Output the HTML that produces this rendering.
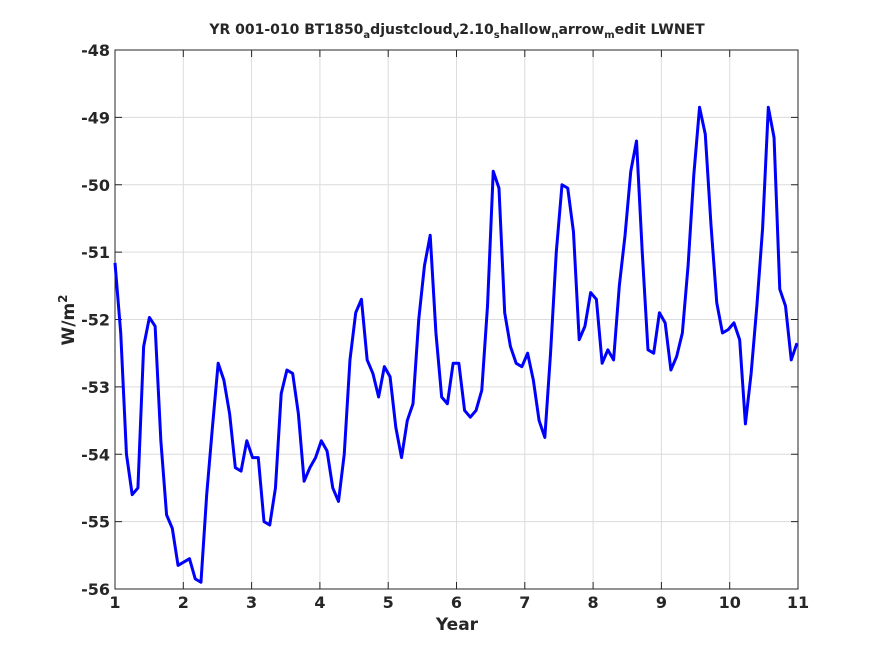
<!DOCTYPE html>
<html><head><meta charset="utf-8"><style>
body{margin:0;background:#fff;}
svg text{font-family:"DejaVu Sans","Liberation Sans",sans-serif;font-weight:bold;fill:#262626;}
</style></head><body>
<svg id="chart" width="884" height="663" xmlns="http://www.w3.org/2000/svg">
<rect width="884" height="663" fill="#fff"/>
<g id="grid"></g><g id="axes"></g><g id="series"></g>
<text x="457" y="34" text-anchor="middle" font-size="14">YR 001-010 BT1850<tspan font-size="10" dy="4">a</tspan><tspan dy="-4">djustcloud</tspan><tspan font-size="10" dy="4">v</tspan><tspan dy="-4">2.10</tspan><tspan font-size="10" dy="4">s</tspan><tspan dy="-4">hallow</tspan><tspan font-size="10" dy="4">n</tspan><tspan dy="-4">arrow</tspan><tspan font-size="10" dy="4">m</tspan><tspan dy="-4">edit LWNET</tspan></text>
<text x="457" y="630" text-anchor="middle" font-size="17">Year</text>
<text transform="translate(74,320) rotate(-90)" text-anchor="middle" font-size="17">W/m<tspan font-size="12" dy="-7">2</tspan></text>
</svg>
<script>
const xTicks=[1,2,3,4,5,6,7,8,9,10,11];
const yTicks=[-48,-49,-50,-51,-52,-53,-54,-55,-56];
const values=[-51.16,-52.2,-54.0,-54.6,-54.5,-52.4,-51.97,-52.1,-53.8,-54.9,-55.1,-55.65,
-55.6,-55.55,-55.85,-55.9,-54.6,-53.6,-52.65,-52.9,-53.4,-54.2,-54.25,-53.8,
-54.05,-54.05,-55.0,-55.05,-54.5,-53.1,-52.75,-52.8,-53.4,-54.4,-54.2,-54.05,
-53.8,-53.95,-54.5,-54.7,-54.0,-52.6,-51.9,-51.7,-52.6,-52.8,-53.15,-52.7,
-52.85,-53.6,-54.05,-53.5,-53.25,-52.0,-51.2,-50.75,-52.2,-53.15,-53.25,-52.65,
-52.65,-53.35,-53.45,-53.35,-53.05,-51.8,-49.8,-50.05,-51.9,-52.4,-52.65,-52.7,
-52.5,-52.9,-53.5,-53.75,-52.5,-51.0,-50.0,-50.05,-50.7,-52.3,-52.1,-51.6,
-51.7,-52.65,-52.45,-52.6,-51.5,-50.75,-49.8,-49.35,-51.0,-52.45,-52.5,-51.9,
-52.05,-52.75,-52.55,-52.2,-51.2,-49.85,-48.85,-49.25,-50.6,-51.75,-52.2,-52.15,
-52.05,-52.3,-53.55,-52.8,-51.8,-50.65,-48.85,-49.3,-51.55,-51.8,-52.6,-52.35];
const L=115,R=798,T=50,B=589;
const xs=v=>L+(v-1)/10*(R-L);
const ys=v=>T+(-48-v)/8*(B-T);
const NS="http://www.w3.org/2000/svg";
function mk(parent,tag,attrs){const e=document.createElementNS(NS,tag);for(const k in attrs)e.setAttribute(k,attrs[k]);parent.appendChild(e);return e;}
const grid=document.getElementById('grid'),axes=document.getElementById('axes'),ser=document.getElementById('series');
mk(grid,'rect',{x:L,y:T,width:R-L,height:B-T,fill:'#fff'});
xTicks.forEach(t=>{
 const g=mk(grid,'line',{x1:xs(t),x2:xs(t),y1:T,y2:B,stroke:'#dcdcdc','stroke-width':1});
 
 
 mk(axes,'line',{x1:xs(t),x2:xs(t),y1:B,y2:B-7,stroke:'#262626'});
 mk(axes,'line',{x1:xs(t),x2:xs(t),y1:T,y2:T+7,stroke:'#262626'});
 const tx=mk(axes,'text',{x:xs(t),y:B+19,'text-anchor':'middle','font-size':16});
 tx.textContent=t;
 
 
});
yTicks.forEach(t=>{
 const g=mk(grid,'line',{x1:L,x2:R,y1:ys(t),y2:ys(t),stroke:'#dcdcdc','stroke-width':1});
 
 
 mk(axes,'line',{x1:L,x2:L+7,y1:ys(t),y2:ys(t),stroke:'#262626'});
 mk(axes,'line',{x1:R,x2:R-7,y1:ys(t),y2:ys(t),stroke:'#262626'});
 const tx=mk(axes,'text',{x:L-5,y:ys(t)+6,'text-anchor':'end','font-size':16});
 tx.textContent=t;
 
 
});
const box=mk(axes,'rect',{x:L,y:T,width:R-L,height:B-T,fill:'none',stroke:'#262626','stroke-width':1});


const n=values.length;
const pts=values.map((v,i)=>xs(1+i*9.985/(n-1)).toFixed(2)+','+ys(v).toFixed(2)).join(' ');
const line=mk(ser,'polyline',{points:pts,fill:'none',stroke:'#0000ff','stroke-width':3,'stroke-linejoin':'round'});


</script>
</body></html>
